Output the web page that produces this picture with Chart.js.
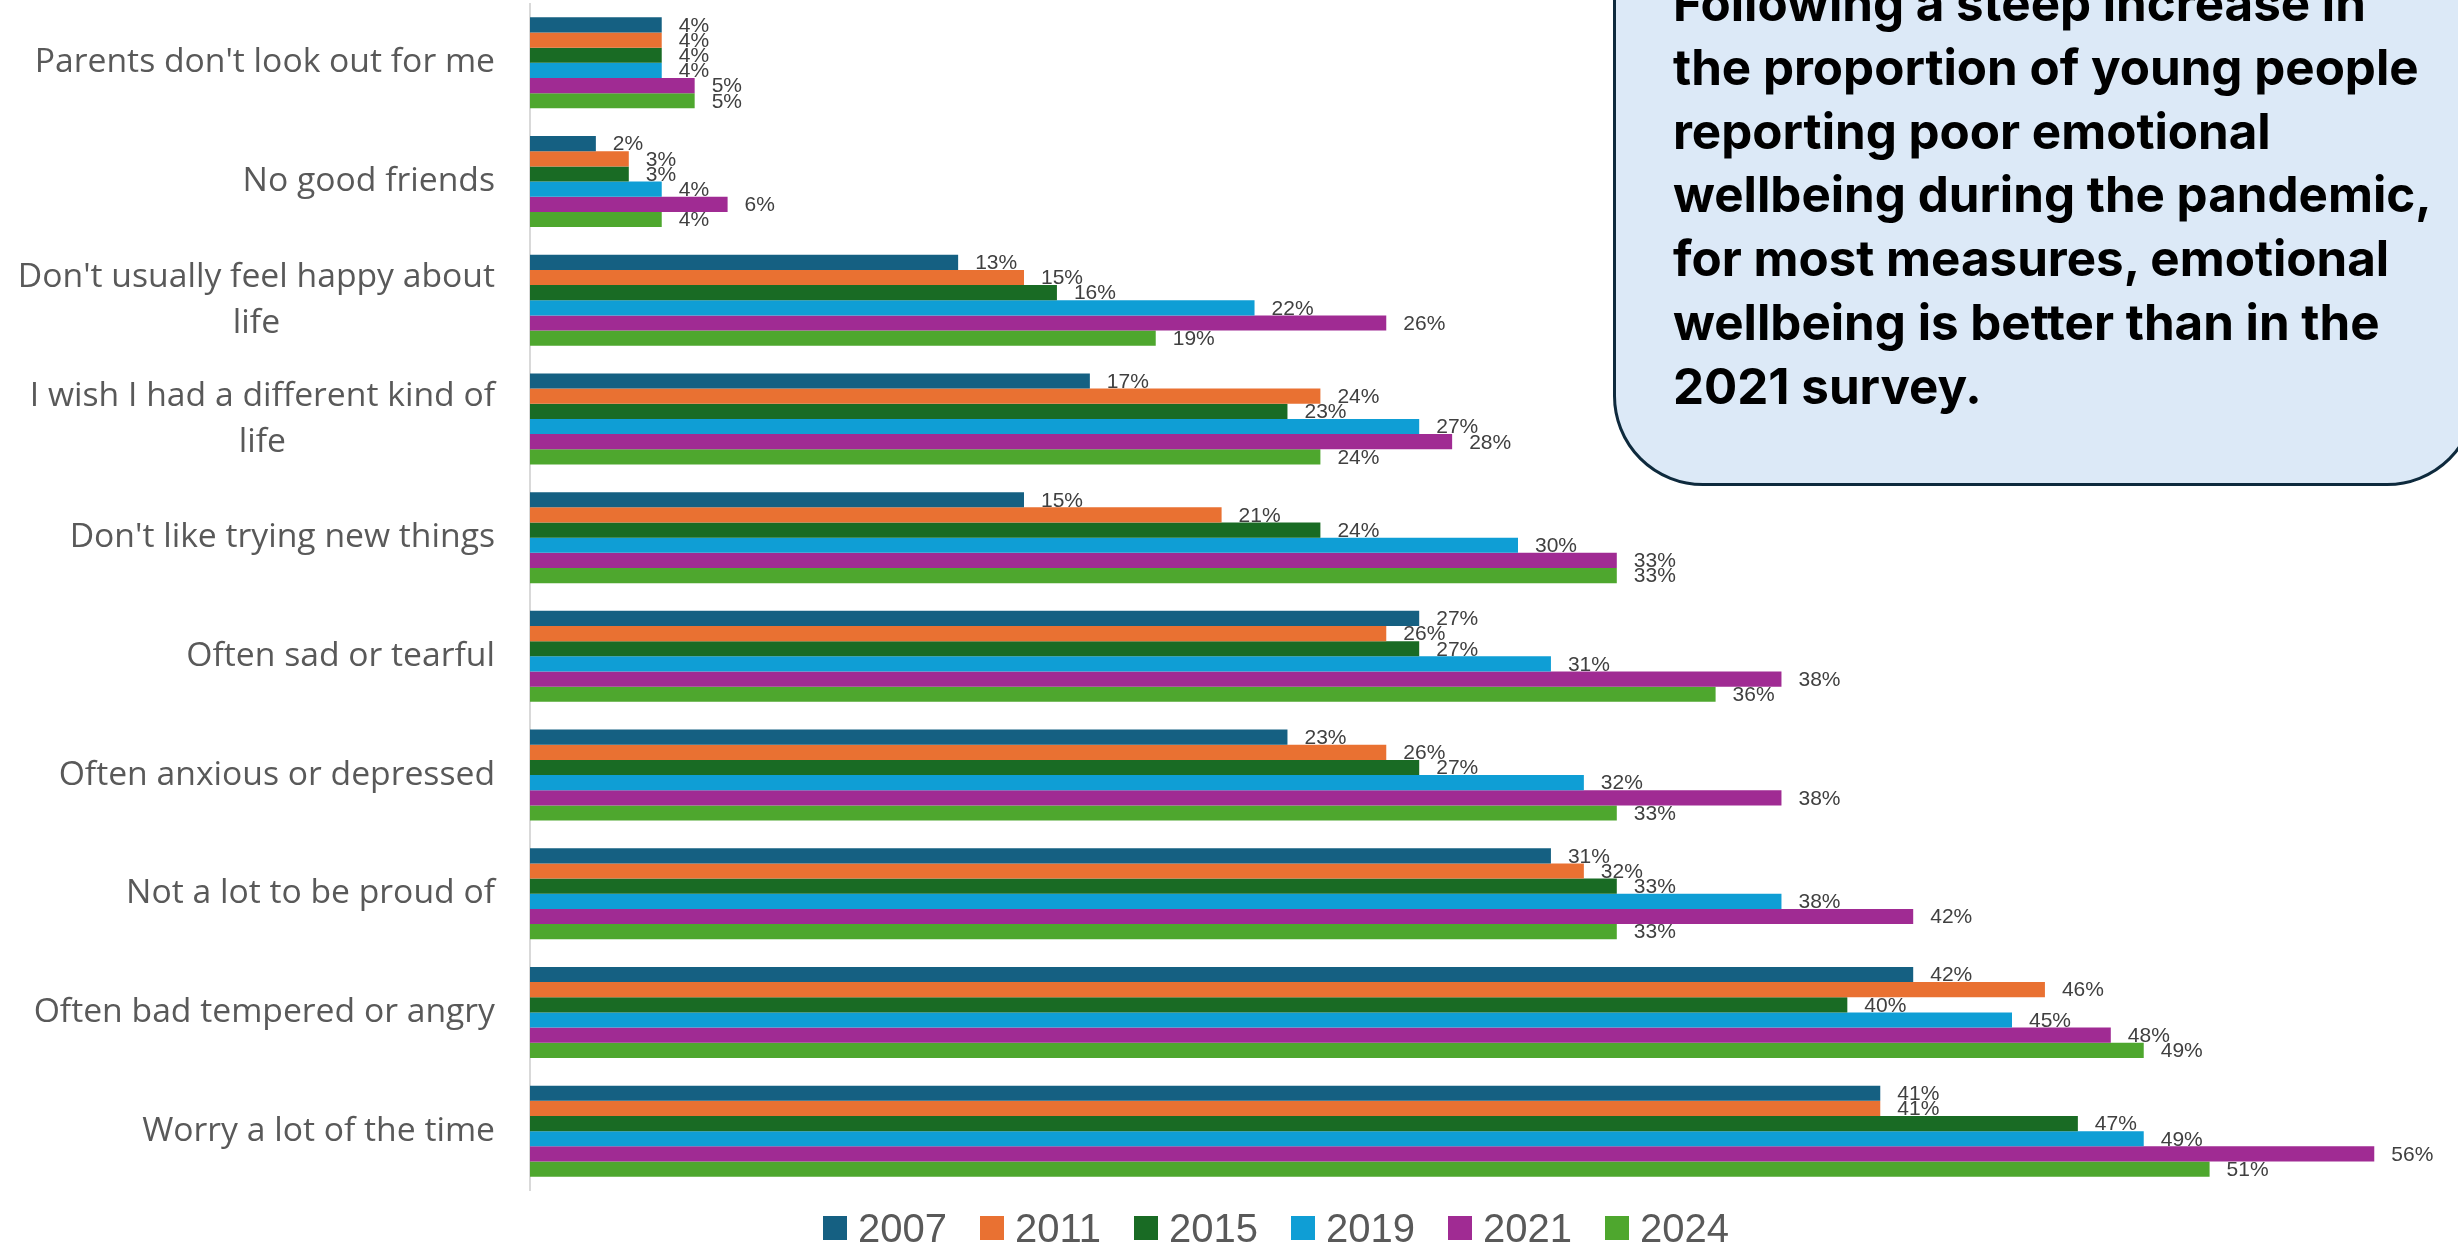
<!DOCTYPE html>
<html>
<head>
<meta charset="utf-8">
<title>Emotional wellbeing</title>
<script src="https://cdn.jsdelivr.net/npm/chart.js@4.4.1/dist/chart.umd.min.js"></script>
<style>
    html, body {
        margin: 0;
        padding: 0;
        background: #ffffff;
        overflow: hidden;
        width: 2458px;
        height: 1246px;
    }
    #wrap {
        position: relative;
        width: 2458px;
        height: 1246px;
        overflow: hidden;
    }
    #chart {
        position: absolute;
        left: 0;
        top: 0;
    }
    .callout {
        position: absolute;
        left: 1613px;
        top: -200px;
        width: 858px;
        height: 680px;
        background: #dce9f7;
        border: 3.5px solid #0e2a3d;
        border-radius: 90px;
    }
    .callout-text {
        position: absolute;
        left: 1673px;
        top: -28px;
        font-family: Inter, "Liberation Sans", sans-serif;
        font-weight: 700;
        font-size: 49.3px;
        line-height: 63.8px;
        color: #000000;
        white-space: nowrap;
    }
    #legend {
        position: absolute;
        left: 823px;
        top: 1216px;
        display: flex;
        align-items: center;
        height: 24px;
    }
    .legend-item {
        display: flex;
        align-items: center;
        margin-right: 33px;
    }
    .legend-box {
        width: 24px;
        height: 24px;
        margin-right: 11px;
    }
    .legend-text {
        font-family: "Liberation Sans", Arial, sans-serif;
        font-size: 40px;
        line-height: 1;
        color: #595959;
    }
</style>
</head>
<body>
<div id="wrap">
    <canvas id="chart" width="2550" height="1246"></canvas>
    <div class="callout"></div>
    <div class="callout-text">
        Following a steep increase in<br>
        the proportion of young people<br>
        reporting poor emotional<br>
        wellbeing during the pandemic,<br>
        for most measures, emotional<br>
        wellbeing is better than in the<br>
        2021 survey.
    </div>
    <div id="legend"></div>
</div>
<script>
const categories = [
    ["Parents don't look out for me"],
    ["No good friends"],
    ["Don't usually feel happy about", "life"],
    ["I wish I had a different kind of", "life"],
    ["Don't like trying new things"],
    ["Often sad or tearful"],
    ["Often anxious or depressed"],
    ["Not a lot to be proud of"],
    ["Often bad tempered or angry"],
    ["Worry a lot of the time"],
];

const years = ["2007", "2011", "2015", "2019", "2021", "2024"];
const colors = ["#156082", "#e97132", "#196b24", "#0f9ed5", "#a02b93", "#4ea72e"];

// percentages, one array per survey year, same order as categories
const values2007 = [4, 2, 13, 17, 15, 27, 23, 31, 42, 41];
const values2011 = [4, 3, 15, 24, 21, 26, 26, 32, 46, 41];
const values2015 = [4, 3, 16, 23, 24, 27, 27, 33, 40, 47];
const values2019 = [4, 4, 22, 27, 30, 31, 32, 38, 45, 49];
const values2021 = [5, 6, 26, 28, 33, 38, 38, 42, 48, 56];
const values2024 = [5, 4, 19, 24, 33, 36, 33, 33, 49, 51];

const seriesValues = [values2007, values2011, values2015, values2019, values2021, values2024];

const AXIS_WIDTH = 530;

// value labels just past the end of each bar
const barLabels = {
    id: "barLabels",
    afterDatasetsDraw(chart) {
        const ctx = chart.ctx;
        ctx.save();
        ctx.font = "21px 'Liberation Sans', Arial, sans-serif";
        ctx.fillStyle = "#404040";
        ctx.textAlign = "left";
        ctx.textBaseline = "middle";
        chart.data.datasets.forEach((dataset, i) => {
            const meta = chart.getDatasetMeta(i);
            meta.data.forEach((bar, index) => {
                ctx.fillText(dataset.data[index] + "%", bar.x + 17, bar.y + 1);
            });
        });
        ctx.restore();
    }
};

// category names, wrapped lines centred on each other, block right aligned
const categoryLabels = {
    id: "categoryLabels",
    afterDraw(chart) {
        const ctx = chart.ctx;
        const yScale = chart.scales.y;
        const rightEdge = AXIS_WIDTH - 35;
        const lineGap = 46;
        ctx.save();
        ctx.font = "33.7px 'Open Sans', sans-serif";
        ctx.fillStyle = "#595959";
        ctx.textAlign = "center";
        ctx.textBaseline = "middle";
        categories.forEach((lines, index) => {
            const y = yScale.getPixelForTick(index);
            const widest = Math.max(...lines.map(line => ctx.measureText(line).width));
            const x = rightEdge - widest / 2;
            const top = y - (lines.length - 1) * lineGap / 2;
            lines.forEach((line, n) => {
                ctx.fillText(line, x, top + n * lineGap);
            });
        });
        ctx.restore();
    }
};

function buildLegend() {
    const legend = document.getElementById("legend");
    years.forEach((year, i) => {
        const item = document.createElement("div");
        item.className = "legend-item";
        item.innerHTML = `<div class="legend-box" style="background:${colors[i]}"></div><span class="legend-text">${year}</span>`;
        legend.appendChild(item);
    });
}

function renderChart() {
    const ctx = document.getElementById("chart").getContext("2d");
    new Chart(ctx, {
        type: "bar",
        data: {
            labels: categories,
            datasets: years.map((year, i) => ({
                label: year,
                data: seriesValues[i],
                backgroundColor: colors[i],
                borderWidth: 0,
                categoryPercentage: 0.767,
                barPercentage: 1.0,
            })),
        },
        options: {
            indexAxis: "y",
            responsive: false,
            animation: false,
            devicePixelRatio: 1,
            layout: {
                padding: { top: 3.5, right: 44, bottom: 55.5, left: 0 },
            },
            plugins: {
                legend: { display: false },
                tooltip: { enabled: false },
            },
            scales: {
                x: {
                    display: false,
                    min: 0,
                    max: 60,
                },
                y: {
                    afterFit(scale) {
                        scale.width = AXIS_WIDTH;
                    },
                    ticks: { display: false },
                    grid: { display: false, drawTicks: false },
                    border: { display: true, color: "#d9d9d9", width: 2 },
                },
            },
        },
        plugins: [barLabels, categoryLabels],
    });
}

document.addEventListener("DOMContentLoaded", function() {
    buildLegend();
    renderChart();
});
</script>
</body>
</html>
